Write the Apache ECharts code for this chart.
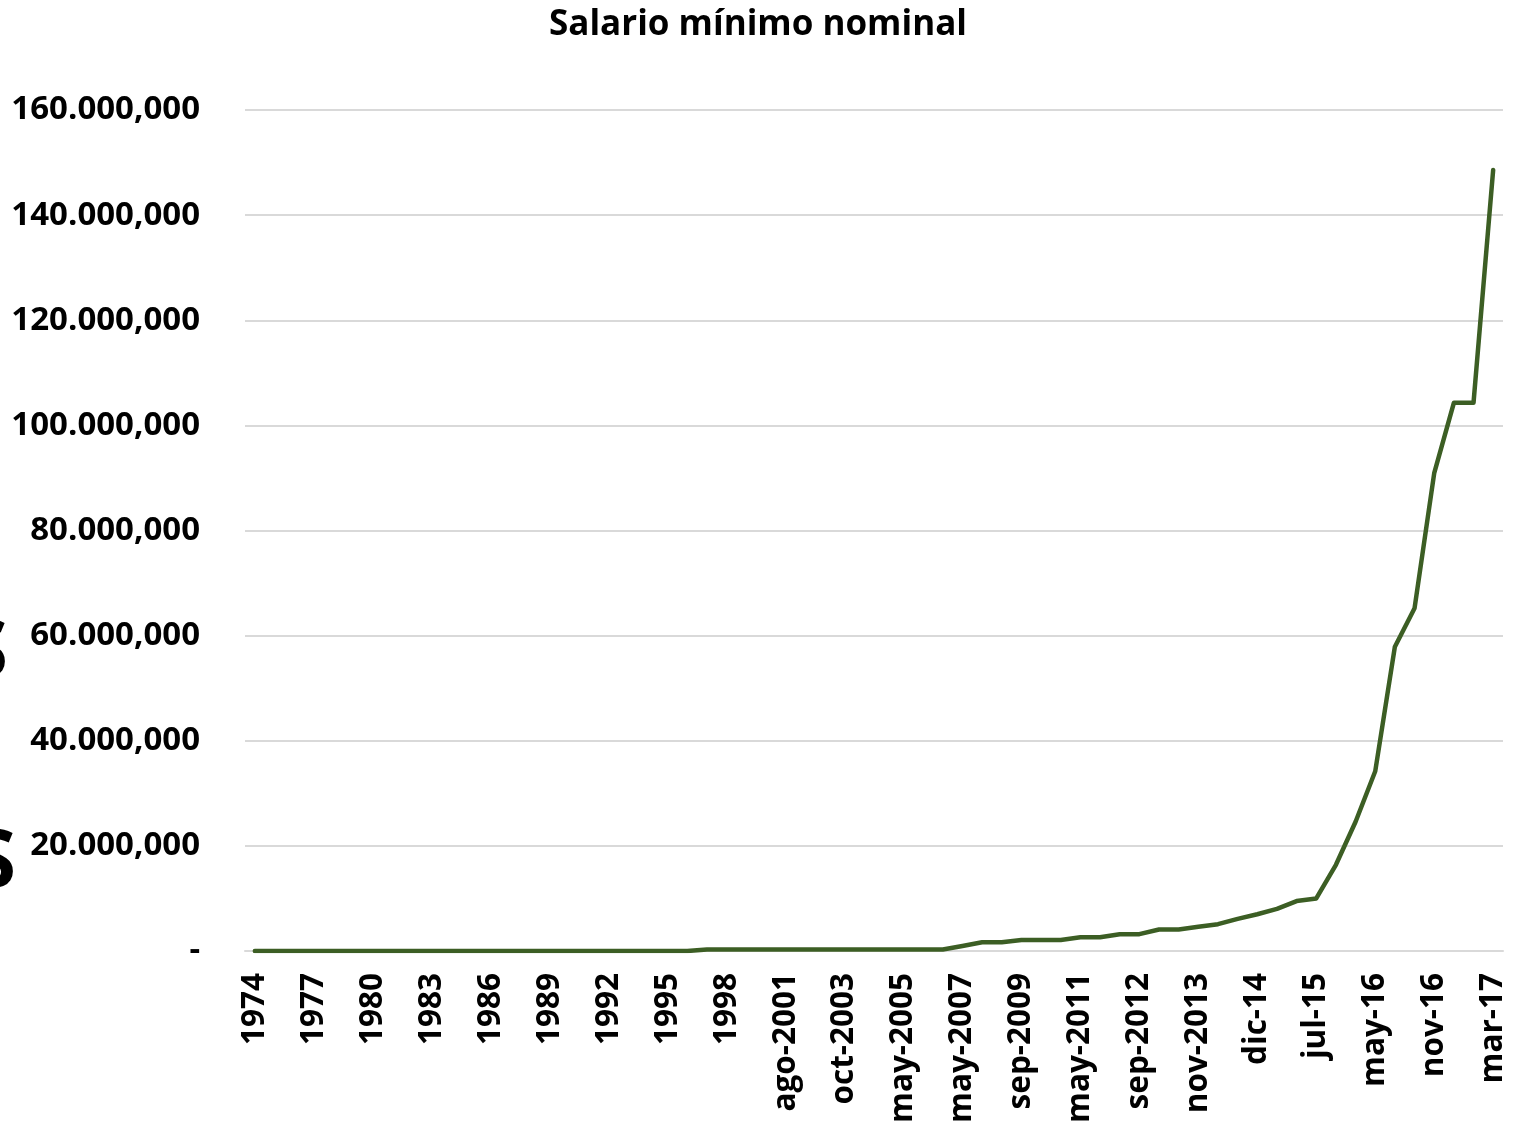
<!DOCTYPE html>
<html>
<head>
    <meta charset="UTF-8">
    <title>Salario mínimo nominal</title>
    <script type="text/javascript" src="https://cdn.jsdelivr.net/npm/echarts@6/dist/echarts.min.js"></script>
</head>
<body style="margin:0;background-color:#ffffff;">
<div id="salario" style="width:1516px;height:1125px;"></div>
<script>
    // fechas de los aumentos (solo se rotula una de cada tres)
    var fechas = [
        '1974', '1975', '1976', '1977', '1978', '1979', '1980', '1981', '1982', '1983',
        '1984', '1985', '1986', '1987', '1988', '1989', '1990', '1991', '1992', '1993',
        '1994', '1995', '1996', '1997', '1998',
        'may-1999', 'may-2000', 'ago-2001', 'may-2002', 'jul-2003', 'oct-2003', 'may-2004',
        'ago-2004', 'may-2005', 'feb-2006', 'sep-2006', 'may-2007', 'may-2008', 'mar-2009',
        'sep-2009', 'mar-2010', 'sep-2010', 'may-2011', 'sep-2011', 'may-2012', 'sep-2012',
        'may-2013', 'sep-2013', 'nov-2013', 'ene-14', 'may-14', 'dic-14', 'feb-15', 'may-15',
        'jul-15', 'nov-15', 'mar-16', 'may-16', 'jul-16', 'sep-16', 'nov-16', 'ene-17',
        'feb-17', 'mar-17'
    ];

    // salario mínimo nominal
    var salario = [
        0, 0, 0, 0, 0, 0, 0, 0, 0, 0,
        0, 0, 0, 0, 0, 0, 0, 0, 0, 0,
        0, 0, 0, 300000, 300000,
        300000, 300000, 300000, 300000, 300000, 300000, 300000,
        300000, 300000, 300000, 300000, 950000, 1660000, 1660000,
        2100000, 2100000, 2100000, 2600000, 2600000, 3200000, 3200000,
        4100000, 4100000, 4600000, 5100000, 6100000, 7000000, 8000000, 9500000,
        10000000, 16400000, 24600000, 34200000, 57900000, 65200000, 90900000, 104300000,
        104300000, 148600000
    ];

    var ejeY = { min: 0, max: 160000000, interval: 20000000 };

    var fuente = '"Open Sans", "Noto Sans", sans-serif';

    function formatoBs(v) {
        if (v === 0) return '-';
        var s = String(Math.round(v));
        var partes = [];
        while (s.length > 3) {
            partes.unshift(s.slice(-3));
            s = s.slice(0, -3);
        }
        partes.unshift(s);
        // separadores como en la hoja original: punto y luego coma
        var out = partes[0];
        for (var i = 1; i < partes.length; i++) {
            out += (i === partes.length - 1 ? ',' : '.') + partes[i];
        }
        return out;
    }

    var chart = echarts.init(document.getElementById('salario'), null, {renderer: 'canvas'});

    chart.setOption({
        backgroundColor: '#ffffff',
        animation: false,
        title: {
            text: 'Salario mínimo nominal',
            left: 'center',
            top: 3,
            textStyle: { fontFamily: fuente, fontSize: 35, fontWeight: 'bold', color: '#000000' }
        },
        // restos del titulo del eje, cortados por el borde
        graphic: [
            { type: 'text', x: -36, y: 614, style: { text: 'S', font: 'bold 80px ' + fuente, fill: '#000' } },
            { type: 'text', x: -28, y: 824, style: { text: 'S', font: 'bold 80px ' + fuente, fill: '#000' } }
        ],
        grid: { left: 245, right: 13, top: 110, bottom: 174, containLabel: false, outerBoundsMode: 'none' },
        xAxis: {
            type: 'category',
            data: fechas,
            boundaryGap: true,
            axisLine: { lineStyle: { color: '#d9d9d9', width: 2 } },
            axisTick: { show: false },
            axisLabel: {
                interval: 2,
                rotate: 90,
                margin: 22,
                color: '#000000',
                fontFamily: fuente,
                fontSize: 31.5,
                fontWeight: 'bold'
            }
        },
        yAxis: {
            type: 'value',
            min: ejeY.min,
            max: ejeY.max,
            interval: ejeY.interval,
            axisLine: { show: false },
            axisTick: { show: false },
            splitLine: { lineStyle: { color: '#d9d9d9', width: 2 } },
            axisLabel: {
                formatter: formatoBs,
                margin: 45,
                color: '#000000',
                fontFamily: fuente,
                fontSize: 33,
                fontWeight: 'bold'
            }
        },
        series: [{
            type: 'line',
            data: salario,
            symbol: 'none',
            lineStyle: { color: '#3c5e24', width: 4.5, cap: 'round', join: 'round' }
        }]
    });
</script>
</body>
</html>
